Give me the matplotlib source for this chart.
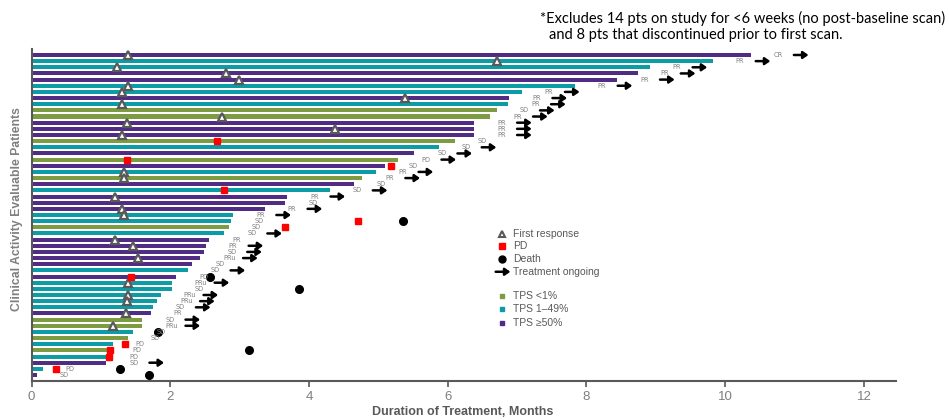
import numpy as np
import matplotlib.pyplot as plt

# swimmer data, one entry per patient, top row first (months)
duration = [10.37, 9.82, 8.91, 8.74, 8.44, 7.83, 7.07, 6.89, 6.87, 6.71,
            6.61, 6.38, 6.38, 6.38, 6.10, 5.87, 5.52, 5.29, 5.10, 4.96,
            4.77, 4.65, 4.30, 3.69, 3.66, 3.36, 2.91, 2.88, 2.85, 2.78,
            2.56, 2.51, 2.49, 2.43, 2.32, 2.25, 2.09, 2.02, 2.02, 1.86,
            1.81, 1.75, 1.72, 1.60, 1.60, 1.47, 1.39, 1.17, 1.13, 1.08,
            1.08, 0.16, 0.08]
tps = ['>=50', '1-49', '1-49', '>=50', '>=50', '1-49', '1-49', '>=50', '1-49', '<1',
       '<1', '>=50', '>=50', '>=50', '<1', '1-49', '>=50', '<1', '>=50', '1-49',
       '<1', '>=50', '1-49', '>=50', '>=50', '>=50', '1-49', '1-49', '<1', '1-49',
       '>=50', '>=50', '>=50', '>=50', '>=50', '1-49', '>=50', '1-49', '1-49', '1-49',
       '1-49', '1-49', '>=50', '<1', '<1', '1-49', '<1', '1-49', '<1', '1-49',
       '>=50', '1-49', '>=50']
response = ['CR', 'PR', 'PR', 'PR', 'PR', 'PR', 'PR', 'PR', 'PR', 'SD',
            'PR', 'PR', 'PR', 'PR', 'SD', 'SD', 'SD', 'PD', 'SD', 'PR',
            'PR', 'SD', 'SD', 'PR', 'SD', 'PR', 'PR', 'SD', 'SD', 'SD',
            'PR', 'PR', 'SD', 'PRu', 'SD', 'SD', 'PD', 'PRu', 'SD', 'PRu',
            'PRu', 'SD', 'PR', 'SD', 'PRu', 'SD', 'SD', 'PD', 'PD', 'PD',
            'SD', 'PD', 'SD']
ongoing = [1, 1, 1, 1, 1, 1, 1, 1, 1, 1,
           1, 1, 1, 1, 0, 1, 1, 1, 0, 1,
           1, 0, 1, 1, 0, 1, 1, 0, 0, 1,
           0, 1, 1, 1, 0, 1, 0, 1, 0, 1,
           1, 1, 0, 1, 1, 0, 0, 0, 0, 0,
           1, 0, 0]

first_resp_rows = [0, 1, 2, 3, 4, 5, 6, 7, 8, 10, 11, 12, 13, 19, 20, 23, 25, 26,
                   30, 31, 33, 37, 39, 40, 42, 44]
first_resp_time = [1.39, 6.71, 1.23, 2.81, 2.99, 1.39, 1.30, 5.38, 1.31, 2.75, 1.38,
                   4.38, 1.30, 1.34, 1.34, 1.20, 1.31, 1.33, 1.21, 1.47, 1.53, 1.39,
                   1.39, 1.37, 1.36, 1.17]
pd_rows = [14, 17, 18, 22, 27, 28, 36, 47, 48, 49, 51]
pd_time = [2.67, 1.37, 5.18, 2.78, 4.71, 3.66, 1.43, 1.35, 1.13, 1.11, 0.35]
death_rows = [27, 36, 38, 45, 48, 51, 52]
death_time = [5.36, 2.58, 3.86, 1.83, 3.13, 1.28, 1.70]

tps_colors = {'<1': '#7d9b40', '1-49': '#0b9ca6', '>=50': '#512c85'}
grey = '#595959'
arrow_props = dict(arrowstyle='-|>,head_width=0.35,head_length=0.5', lw=1.8,
                   color='black', shrinkA=0, shrinkB=0, mutation_scale=6)

fig = plt.figure(figsize=(9.49, 4.2), dpi=100)
ax = fig.add_axes([0.0332, 0.0929, 0.9108, 0.7904])

rows = np.arange(len(duration))
ax.barh(rows, duration, height=0.66, color=[tps_colors[t] for t in tps])

ax.plot(first_resp_time, first_resp_rows, '^', ms=6, mfc='white', mec=grey, mew=1.6, ls='none')
ax.plot(pd_time, pd_rows, 's', ms=4.5, color='#ff0000', ls='none')
ax.plot(death_time, death_rows, 'o', ms=5.5, color='black', ls='none')

for r in rows:
    end = duration[r]
    ax.text(end + 0.33, r, response[r], fontsize=4.8, color='#808080', va='center', ha='left')
    if ongoing[r]:
        ax.annotate('', xy=(end + 0.83, r), xytext=(end + 0.62, r), arrowprops=arrow_props)

ax.set_xlim(0, 12.46)
ax.set_ylim(52.97, -0.97)
ax.set_xticks(range(0, 13, 2))
ax.set_yticks([])
for s in ['top', 'right']:
    ax.spines[s].set_visible(False)
for s in ['left', 'bottom']:
    ax.spines[s].set_color(grey)
    ax.spines[s].set_linewidth(1.5)
ax.tick_params(axis='x', length=4, width=1.2, color=grey, labelcolor='#7f7f7f',
               labelsize=9.5, pad=3)
for lab in ax.get_xticklabels():
    lab.set_family(['Liberation Sans', 'DejaVu Sans'])

# legend, drawn by hand
lx, tx = 0.544, 0.557
lt = dict(transform=ax.transAxes, fontsize=7.5, color=grey, va='center', ha='left',
          family=['Liberation Sans', 'DejaVu Sans'])
ax.plot(lx, 0.443, '^', ms=5, mfc='white', mec=grey, mew=1.5, transform=ax.transAxes)
ax.text(tx, 0.443, 'First response', **lt)
ax.plot(lx, 0.407, 's', ms=4, color='#ff0000', transform=ax.transAxes)
ax.text(tx, 0.407, 'PD', **lt)
ax.plot(lx, 0.366, 'o', ms=5, color='black', transform=ax.transAxes)
ax.text(tx, 0.366, 'Death', **lt)
ax.annotate('', xy=(lx + 0.010, 0.329), xytext=(lx - 0.007, 0.329), xycoords='axes fraction',
            arrowprops=arrow_props)
ax.text(tx, 0.329, 'Treatment ongoing', **lt)
for yy, key, name in [(0.256, '<1', 'TPS <1%'), (0.216, '1-49', 'TPS 1\u201349%'),
                      (0.175, '>=50', 'TPS \u226550%')]:
    ax.plot(lx, yy, 's', ms=3.5, color=tps_colors[key], transform=ax.transAxes)
    ax.text(tx, yy, name, **lt)

fig.text(0.488, 0.019, 'Duration of Treatment, Months', ha='center', va='center',
         fontsize=9, fontweight='bold', color=grey,
         family=['Liberation Sans', 'DejaVu Sans'])
fig.text(0.018, 0.502, 'Clinical Activity Evaluable Patients', rotation=90, ha='center',
         va='center', fontsize=8.8, fontweight='bold', color='#7f7f7f',
         family=['Liberation Sans', 'DejaVu Sans'])

fig.text(0.569, 0.957, '*Excludes 14 pts on study for <6 weeks (no post-baseline scan)',
         ha='left', va='center', fontsize=10.5, color='black', family=['Lato', 'DejaVu Sans'])
fig.text(0.578, 0.917, 'and 8 pts that discontinued prior to first scan.',
         ha='left', va='center', fontsize=10.5, color='black', family=['Lato', 'DejaVu Sans'])

fig.savefig('out.png', dpi=100)
